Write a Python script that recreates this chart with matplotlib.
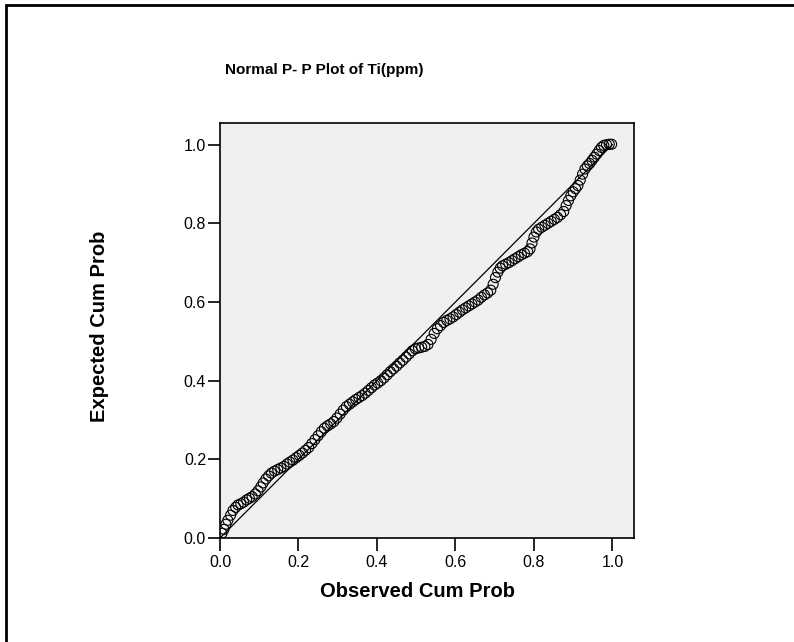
import matplotlib.pyplot as plt
from matplotlib.patches import Rectangle

# observed vs expected cumulative probabilities
observed = [0.005, 0.010, 0.015, 0.020, 0.027, 0.033, 0.040, 0.046, 0.053, 0.060,
            0.068, 0.075, 0.082, 0.090, 0.097, 0.104, 0.110, 0.117, 0.124, 0.131,
            0.139, 0.147, 0.155, 0.163, 0.171, 0.178, 0.186, 0.194, 0.202, 0.210,
            0.218, 0.226, 0.234, 0.242, 0.250, 0.258, 0.266, 0.274, 0.282, 0.290,
            0.298, 0.306, 0.314, 0.322, 0.330, 0.338, 0.346, 0.354, 0.362, 0.370,
            0.378, 0.386, 0.394, 0.402, 0.410, 0.418, 0.426, 0.434, 0.442, 0.450,
            0.458, 0.466, 0.474, 0.482, 0.490, 0.498, 0.506, 0.514, 0.522, 0.530,
            0.538, 0.546, 0.554, 0.562, 0.570, 0.578, 0.586, 0.594, 0.602, 0.610,
            0.618, 0.626, 0.634, 0.642, 0.650, 0.658, 0.666, 0.674, 0.682, 0.690,
            0.696, 0.702, 0.708, 0.714, 0.720, 0.728, 0.736, 0.744, 0.752, 0.760,
            0.768, 0.776, 0.784, 0.790, 0.795, 0.800, 0.806, 0.812, 0.820, 0.828,
            0.836, 0.844, 0.852, 0.860, 0.868, 0.876, 0.882, 0.888, 0.894, 0.900,
            0.906, 0.912, 0.918, 0.924, 0.930, 0.936, 0.942, 0.948, 0.954, 0.960,
            0.966, 0.972, 0.978, 0.985, 0.992, 0.998]
expected = [0.012, 0.022, 0.035, 0.045, 0.058, 0.070, 0.078, 0.084, 0.087, 0.091,
            0.097, 0.101, 0.105, 0.112, 0.120, 0.130, 0.140, 0.150, 0.158, 0.165,
            0.170, 0.174, 0.178, 0.182, 0.188, 0.193, 0.198, 0.204, 0.210, 0.216,
            0.223, 0.230, 0.240, 0.250, 0.260, 0.270, 0.279, 0.285, 0.290, 0.296,
            0.305, 0.315, 0.325, 0.334, 0.340, 0.346, 0.352, 0.357, 0.362, 0.368,
            0.375, 0.382, 0.389, 0.394, 0.400, 0.407, 0.415, 0.423, 0.430, 0.437,
            0.445, 0.452, 0.460, 0.468, 0.476, 0.481, 0.483, 0.485, 0.487, 0.492,
            0.505, 0.520, 0.532, 0.540, 0.548, 0.553, 0.557, 0.562, 0.568, 0.574,
            0.580, 0.585, 0.590, 0.595, 0.600, 0.605, 0.612, 0.618, 0.623, 0.630,
            0.645, 0.662, 0.676, 0.686, 0.692, 0.696, 0.700, 0.705, 0.710, 0.715,
            0.720, 0.724, 0.728, 0.735, 0.750, 0.765, 0.778, 0.785, 0.790, 0.795,
            0.800, 0.805, 0.810, 0.815, 0.822, 0.830, 0.845, 0.858, 0.870, 0.880,
            0.888, 0.896, 0.910, 0.925, 0.938, 0.946, 0.952, 0.960, 0.968, 0.976,
            0.985, 0.993, 0.998, 1.000, 1.001, 1.001]
ticks = [0.0, 0.2, 0.4, 0.6, 0.8, 1.0]
tick_labels = ['0.0', '0.2', '0.4', '0.6', '0.8', '1.0']

plt.rcParams['font.family'] = ['Liberation Sans', 'DejaVu Sans']

fig = plt.figure(figsize=(7.94, 6.42), dpi=100)
ax = fig.add_axes([220 / 794, 104 / 642, 414 / 794, 415 / 642])
ax.set_facecolor('#f0f0f0')

# reference diagonal
ax.plot([0, 1], [0, 1], color='black', linewidth=0.9, zorder=2)
ax.scatter(observed, expected, s=52, facecolors='none', edgecolors='black',
           linewidths=0.8, zorder=3)

ax.set_xlim(0, 1.055)
ax.set_ylim(0, 1.055)
ax.set_xticks(ticks)
ax.set_xticklabels(tick_labels)
ax.set_yticks(ticks)
ax.set_yticklabels(tick_labels)
ax.tick_params(direction='out', length=9, width=1.2, labelsize=11.5)
ax.tick_params(axis='x', pad=3)
ax.tick_params(axis='y', pad=1)
for sp in ax.spines.values():
    sp.set_linewidth(1.2)

ax.set_xlabel('Observed Cum Prob', fontsize=14.5, fontweight='bold', va='center')
ax.set_ylabel('Expected Cum Prob', fontsize=14.5, fontweight='bold', va='center')
ax.xaxis.set_label_coords(0.477, -0.13)
ax.yaxis.set_label_coords(-0.29, 0.51)
fig.text(324 / 794, 1 - 70 / 642, 'Normal P- P Plot of Ti(ppm)', fontsize=11,
         fontweight='bold', ha='center', va='center')

# outer frame of the chart window
fig.patches.append(Rectangle((6 / 794, -0.2), 1.2, 1.2 - 5 / 642, transform=fig.transFigure,
                             fill=False, edgecolor='black', linewidth=2))

fig.savefig('out.png', dpi=100)
